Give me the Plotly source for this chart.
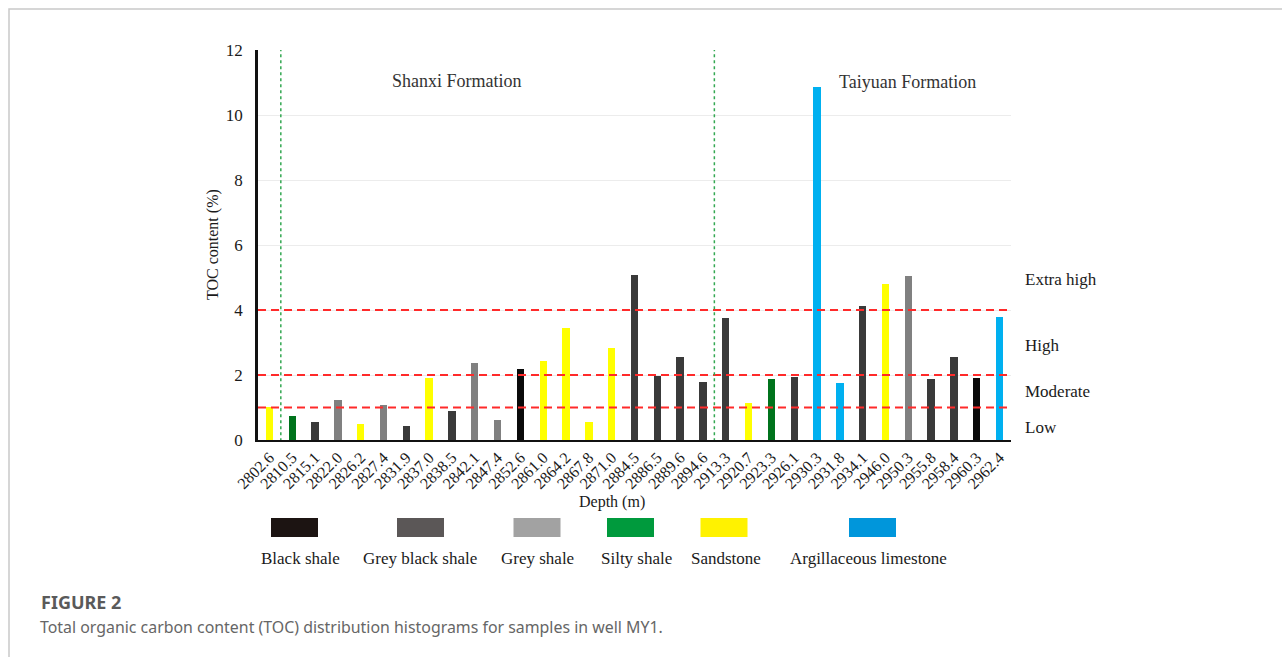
import plotly.graph_objects as go

# ---------------- data ----------------
depths = ["2802.6", "2810.5", "2815.1", "2822.0", "2826.2", "2827.4", "2831.9", "2837.0",
          "2838.5", "2842.1", "2847.4", "2852.6", "2861.0", "2864.2", "2867.8", "2871.0",
          "2884.5", "2886.5", "2889.6", "2894.6", "2913.3", "2920.7", "2923.3", "2926.1",
          "2930.3", "2931.8", "2934.1", "2946.0", "2950.3", "2955.8", "2958.4", "2960.3",
          "2962.4"]
toc = [1.02, 0.75, 0.54, 1.23, 0.48, 1.08, 0.44, 1.92,
       0.88, 2.36, 0.61, 2.20, 2.43, 3.44, 0.55, 2.84,
       5.08, 1.96, 2.54, 1.77, 3.74, 1.15, 1.88, 1.93,
       10.87, 1.75, 4.13, 4.79, 5.06, 1.88, 2.54, 1.90,
       3.77]
lithology = ["Sandstone", "Silty shale", "Grey black shale", "Grey shale", "Sandstone", "Grey shale",
             "Grey black shale", "Sandstone", "Grey black shale", "Grey shale", "Grey shale",
             "Black shale", "Sandstone", "Sandstone", "Sandstone", "Sandstone",
             "Grey black shale", "Grey black shale", "Grey black shale", "Grey black shale",
             "Grey black shale", "Sandstone", "Silty shale", "Grey black shale",
             "Argillaceous limestone", "Argillaceous limestone", "Grey black shale", "Sandstone",
             "Grey shale", "Grey black shale", "Grey black shale", "Black shale",
             "Argillaceous limestone"]
legend_names = ["Black shale", "Grey black shale", "Grey shale", "Silty shale",
                "Sandstone", "Argillaceous limestone"]
bar_colors = {"Black shale": "#0a0a0a", "Grey black shale": "#3a3a3a", "Grey shale": "#808080",
              "Silty shale": "#00731c", "Sandstone": "#ffff00",
              "Argillaceous limestone": "#00b0f0"}
swatch_colors = {"Black shale": "#1c1412", "Grey black shale": "#5b5757", "Grey shale": "#a2a2a2",
                 "Silty shale": "#009a3d", "Sandstone": "#fff200",
                 "Argillaceous limestone": "#0096db"}
thresholds = [1, 2, 4]
level_labels = ["Extra high", "High", "Moderate", "Low"]
level_y = [4.95, 2.9, 1.48, 0.37]
formation_bounds = [0.5, 19.5]
formations = ["Shanxi Formation", "Taiyuan Formation"]

# ---------------- layout geometry ----------------
FW, FH = 1282, 657
L, R = 258, 1011
T, B = 50, 440
W, H = R - L, B - T


def xp(px):
    return (px - L) / W


def yp(py):
    return (B - py) / H


SERIF = "Liberation Serif, Times New Roman, serif"
SANS = "Noto Sans, Open Sans, sans-serif"

fig = go.Figure()
fig.add_trace(go.Bar(
    x=depths, y=toc,
    marker=dict(color=[bar_colors[l] for l in lithology], line=dict(width=0)),
    width=0.32, showlegend=False, hoverinfo="x+y",
))

shapes = []
# threshold dashed lines
for t in thresholds:
    shapes.append(dict(type="line", xref="paper", yref="y", x0=0, x1=1, y0=t, y1=t,
                       line=dict(color="#ff2a2a", width=2, dash="8px,5px"), layer="above"))
# formation boundaries
for fb in formation_bounds:
    shapes.append(dict(type="line", xref="x", yref="y", x0=fb, x1=fb, y0=-0.22, y1=12,
                       line=dict(color="#33a852", width=1.5, dash="dot"), layer="above"))
# page frame
shapes.append(dict(type="rect", xref="paper", yref="paper",
                   x0=xp(9), x1=xp(1300), y0=yp(9), y1=yp(680),
                   line=dict(color="#c9c9c9", width=1.5), fillcolor="rgba(0,0,0,0)", layer="below"))
# custom legend swatches
sw_cx = [294.5, 420.5, 537, 630.5, 724, 872.5]
lab_cx = [300, 420, 537, 636, 726, 868]
annotations = []
for name, cx, lx in zip(legend_names, sw_cx, lab_cx):
    shapes.append(dict(type="rect", xref="paper", yref="paper",
                       x0=xp(cx - 23.5), x1=xp(cx + 23.5), y0=yp(537), y1=yp(518),
                       line=dict(width=0), fillcolor=swatch_colors[name]))
    annotations.append(dict(text=name, xref="paper", yref="paper", x=xp(lx), y=yp(558),
                            xanchor="center", yanchor="middle", showarrow=False,
                            font=dict(family=SERIF, size=17, color="#1a1a1a")))

# level labels
for lab, ly in zip(level_labels, level_y):
    annotations.append(dict(text=lab, xref="paper", yref="y", x=xp(1023), y=ly,
                            xanchor="left", yanchor="middle", showarrow=False,
                            font=dict(family=SERIF, size=17, color="#1a1a1a")))
# formation names
annotations.append(dict(text=formations[0], xref="paper", yref="paper", x=xp(457), y=yp(81),
                        xanchor="center", yanchor="middle", showarrow=False,
                        font=dict(family=SERIF, size=18, color="#333333")))
annotations.append(dict(text=formations[1], xref="paper", yref="paper", x=xp(907), y=yp(82),
                        xanchor="center", yanchor="middle", showarrow=False,
                        font=dict(family=SERIF, size=18, color="#333333")))
# axis titles
annotations.append(dict(text="TOC content (%)", xref="paper", yref="paper", x=xp(213), y=yp(245),
                        textangle=-90, xanchor="center", yanchor="middle", showarrow=False,
                        font=dict(family=SERIF, size=16, color="#1a1a1a")))
annotations.append(dict(text="Depth (m)", xref="paper", yref="paper", x=xp(612), y=yp(502),
                        xanchor="center", yanchor="middle", showarrow=False,
                        font=dict(family=SERIF, size=16, color="#1a1a1a")))
# caption
annotations.append(dict(text="<b>FIGURE 2</b>", xref="paper", yref="paper", x=xp(39), y=yp(602),
                        xanchor="left", yanchor="middle", showarrow=False,
                        font=dict(family=SANS, size=18, color="#5a5a5a")))
annotations.append(dict(text="Total organic carbon content (TOC) distribution histograms for samples in well MY1.",
                        xref="paper", yref="paper", x=xp(38), y=yp(627),
                        xanchor="left", yanchor="middle", showarrow=False,
                        font=dict(family=SANS, size=15.9, color="#666666")))

fig.update_layout(
    width=FW, height=FH,
    margin=dict(l=L, r=FW - R, t=T, b=FH - B),
    paper_bgcolor="white", plot_bgcolor="white",
    shapes=shapes, annotations=annotations,
    bargap=0,
    xaxis=dict(type="category", range=[-0.5, len(depths) - 0.5], tickangle=-45,
               showline=True, linecolor="#111111", linewidth=2, showgrid=False,
               ticks="", tickfont=dict(family=SERIF, size=16, color="#1a1a1a"),
               fixedrange=True),
    yaxis=dict(range=[0, 12], dtick=2, showline=True, linecolor="#111111", linewidth=2.5,
               showgrid=True, gridcolor="#ececec", gridwidth=1, zeroline=False,
               ticks="", ticklabelstandoff=9,
               tickfont=dict(family=SERIF, size=17, color="#1a1a1a"), fixedrange=True),
)

fig.write_html("out.html", config={"displayModeBar": False},
               post_script="document.body.style.margin='0';document.body.style.overflow='hidden';")
